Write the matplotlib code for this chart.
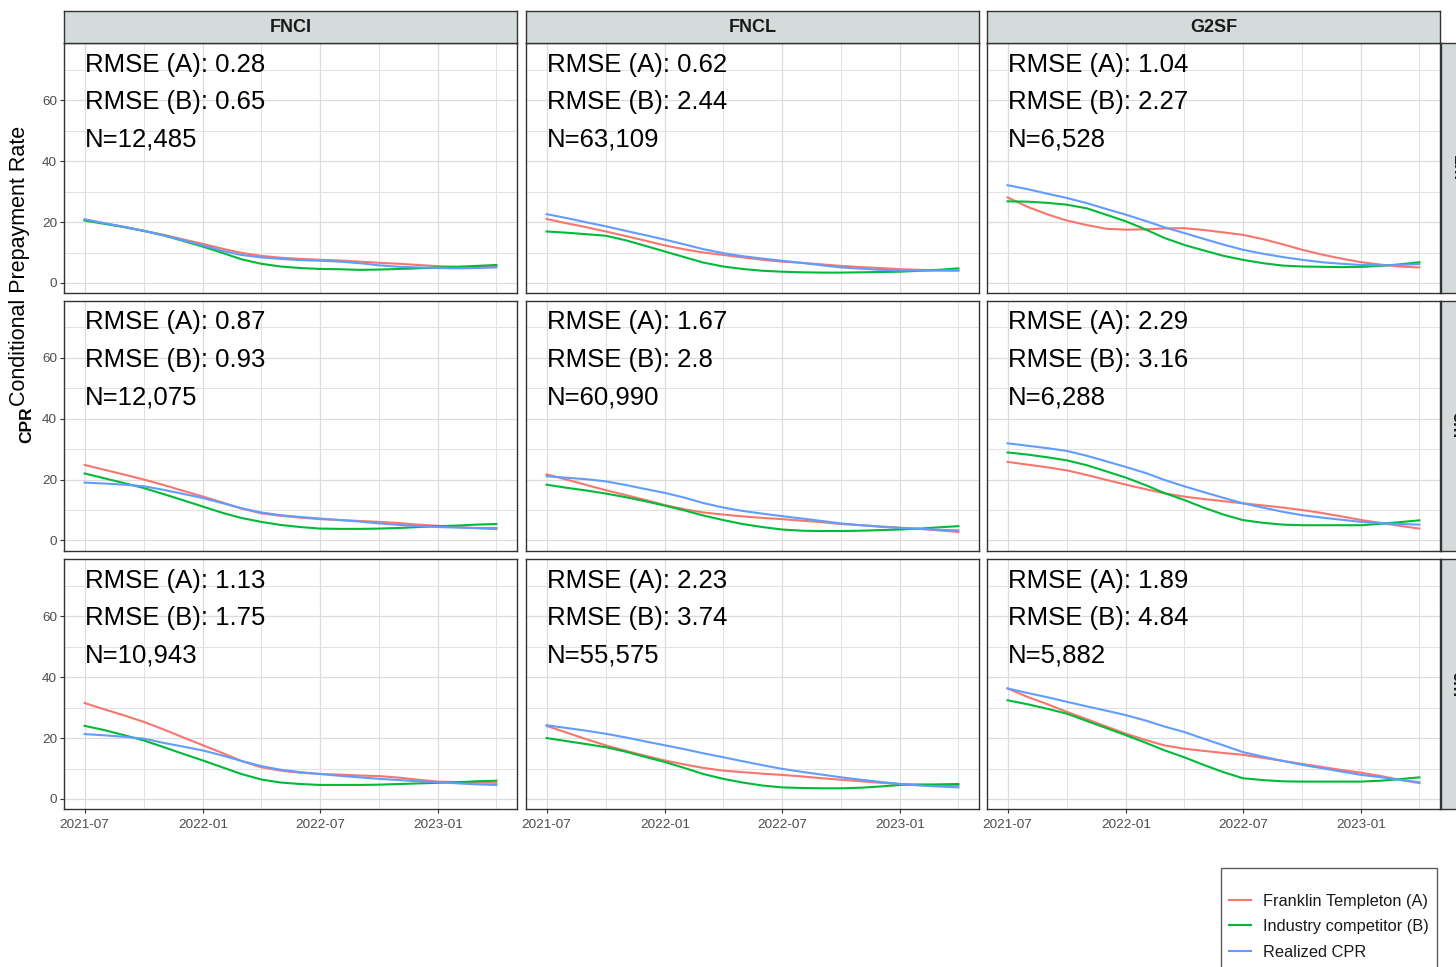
import numpy as np
import pandas as pd
import matplotlib
matplotlib.use('Agg')
import matplotlib.pyplot as plt
import matplotlib.dates as mdates

plt.rcParams['font.family'] = ['Liberation Sans', 'DejaVu Sans']

# facets and series
products = ['FNCI', 'FNCL', 'G2SF']
horizons = ['1m', '3m', '6m']
series_names = ['Franklin Templeton (A)', 'Industry competitor (B)', 'Realized CPR']
colors = ['#F8766D', '#00BA38', '#619CFF']

months = pd.date_range('2021-07-01', '2023-04-01', freq='MS')

# 1m horizon
fnci_1m_a = [20.8, 19.6, 18.4, 17.1, 15.8, 14.3, 12.8, 11.2, 9.9, 8.9, 8.3, 7.9, 7.6, 7.4, 7.0, 6.6, 6.3, 5.9, 5.5, 5.3, 5.3, 5.5]
fnci_1m_b = [20.5, 19.4, 18.3, 17.1, 15.6, 13.8, 11.9, 9.8, 7.8, 6.3, 5.4, 4.9, 4.6, 4.5, 4.3, 4.4, 4.6, 4.8, 5.1, 5.3, 5.6, 5.9]
fnci_1m_r = [20.9, 19.6, 18.4, 17.1, 15.6, 14.0, 12.3, 10.5, 9.2, 8.4, 7.9, 7.5, 7.3, 7.0, 6.5, 5.8, 5.3, 5.1, 4.9, 4.8, 4.9, 5.1]
fncl_1m_a = [21.0, 19.6, 18.3, 16.9, 15.4, 13.9, 12.3, 11.0, 10.0, 9.2, 8.4, 7.6, 7.0, 6.6, 6.1, 5.6, 5.2, 4.9, 4.5, 4.3, 4.1, 4.0]
fncl_1m_b = [16.9, 16.5, 16.0, 15.5, 14.0, 12.2, 10.3, 8.4, 6.7, 5.4, 4.6, 4.0, 3.7, 3.5, 3.4, 3.4, 3.5, 3.6, 3.7, 4.0, 4.3, 4.8]
fncl_1m_r = [22.6, 21.3, 19.9, 18.6, 17.1, 15.7, 14.2, 12.6, 11.1, 9.8, 8.8, 8.0, 7.3, 6.6, 5.8, 5.1, 4.7, 4.3, 4.1, 4.1, 4.1, 4.2]
g2sf_1m_a = [28.1, 25.0, 22.5, 20.5, 19.0, 17.8, 17.5, 17.6, 17.9, 18.0, 17.4, 16.6, 15.8, 14.4, 12.7, 10.9, 9.3, 8.0, 6.8, 6.0, 5.4, 5.1]
g2sf_1m_b = [26.8, 26.7, 26.3, 25.7, 24.5, 22.4, 20.2, 17.5, 14.8, 12.5, 10.7, 8.9, 7.6, 6.5, 5.7, 5.4, 5.3, 5.2, 5.3, 5.6, 6.1, 6.8]
g2sf_1m_r = [32.1, 30.8, 29.3, 27.9, 26.2, 24.3, 22.4, 20.3, 18.3, 16.4, 14.5, 12.6, 10.9, 9.6, 8.5, 7.6, 6.8, 6.3, 5.9, 5.8, 5.9, 6.2]

# 3m horizon
fnci_3m_a = [24.8, 23.2, 21.6, 20.0, 18.2, 16.3, 14.4, 12.4, 10.5, 8.9, 8.1, 7.5, 7.0, 6.7, 6.4, 6.1, 5.7, 5.2, 4.8, 4.4, 4.0, 3.7]
fnci_3m_b = [22.0, 20.4, 18.8, 17.2, 15.2, 13.2, 11.1, 9.0, 7.4, 6.1, 5.1, 4.4, 3.9, 3.8, 3.8, 3.9, 4.1, 4.4, 4.7, 4.9, 5.2, 5.4]
fnci_3m_r = [19.0, 18.7, 18.3, 17.8, 16.6, 15.3, 13.9, 12.2, 10.6, 9.2, 8.3, 7.7, 7.2, 6.7, 6.2, 5.6, 5.1, 4.7, 4.4, 4.2, 4.1, 4.1]
fncl_3m_a = [21.7, 20.0, 18.2, 16.5, 14.9, 13.3, 11.6, 10.2, 9.2, 8.5, 7.9, 7.4, 7.0, 6.5, 6.0, 5.4, 5.0, 4.6, 4.2, 3.8, 3.3, 2.8]
fncl_3m_b = [18.3, 17.3, 16.4, 15.4, 14.2, 12.9, 11.4, 9.8, 8.2, 6.7, 5.4, 4.4, 3.6, 3.2, 3.1, 3.1, 3.2, 3.4, 3.6, 3.9, 4.3, 4.7]
fncl_3m_r = [21.1, 20.6, 20.1, 19.4, 18.2, 16.9, 15.6, 14.0, 12.3, 10.8, 9.7, 8.8, 8.0, 7.2, 6.4, 5.6, 5.0, 4.5, 4.1, 3.8, 3.5, 3.3]
g2sf_3m_a = [25.8, 24.9, 24.0, 23.0, 21.5, 19.9, 18.3, 16.8, 15.5, 14.4, 13.6, 12.9, 12.2, 11.5, 10.8, 10.0, 9.0, 7.9, 6.7, 5.7, 4.8, 3.9]
g2sf_3m_b = [28.9, 28.2, 27.3, 26.3, 24.7, 22.7, 20.6, 18.1, 15.6, 13.3, 10.8, 8.5, 6.7, 5.8, 5.2, 5.0, 5.0, 5.0, 5.0, 5.5, 6.0, 6.6]
g2sf_3m_r = [31.9, 31.1, 30.3, 29.4, 27.8, 26.0, 24.1, 22.1, 19.9, 17.8, 15.9, 14.0, 12.2, 10.8, 9.4, 8.3, 7.5, 6.8, 6.1, 5.7, 5.4, 5.2]

# 6m horizon
fnci_6m_a = [31.5, 29.4, 27.4, 25.3, 22.8, 20.2, 17.6, 15.0, 12.5, 10.4, 9.3, 8.6, 8.2, 8.0, 7.7, 7.5, 7.0, 6.3, 5.7, 5.5, 5.4, 5.3]
fnci_6m_b = [24.0, 22.6, 20.9, 19.2, 17.0, 14.8, 12.6, 10.3, 8.2, 6.4, 5.4, 4.9, 4.6, 4.6, 4.6, 4.7, 4.9, 5.1, 5.3, 5.5, 5.8, 6.0]
fnci_6m_r = [21.3, 20.9, 20.4, 19.8, 18.4, 17.2, 15.9, 14.2, 12.5, 10.8, 9.6, 8.8, 8.2, 7.6, 7.1, 6.6, 6.2, 5.8, 5.5, 5.1, 4.8, 4.6]
fncl_6m_a = [24.0, 21.8, 19.6, 17.6, 15.8, 14.2, 12.6, 11.3, 10.2, 9.3, 8.8, 8.3, 7.9, 7.4, 6.8, 6.3, 5.8, 5.3, 4.9, 4.7, 4.5, 4.4]
fncl_6m_b = [20.0, 19.0, 18.0, 17.0, 15.5, 13.8, 12.1, 10.1, 8.2, 6.6, 5.4, 4.4, 3.8, 3.6, 3.5, 3.5, 3.7, 4.1, 4.6, 4.7, 4.8, 4.9]
fncl_6m_r = [24.2, 23.3, 22.4, 21.4, 20.2, 18.9, 17.6, 16.3, 15.0, 13.7, 12.4, 11.1, 9.9, 8.9, 8.0, 7.1, 6.3, 5.6, 4.9, 4.4, 4.1, 3.8]
g2sf_6m_a = [36.3, 33.5, 31.1, 28.6, 26.2, 23.8, 21.4, 19.3, 17.6, 16.5, 15.8, 15.1, 14.5, 13.5, 12.5, 11.5, 10.5, 9.5, 8.6, 7.5, 6.3, 5.2]
g2sf_6m_b = [32.4, 31.1, 29.6, 28.0, 25.6, 23.3, 20.9, 18.4, 16.0, 13.7, 11.2, 8.8, 6.8, 6.2, 5.8, 5.7, 5.7, 5.7, 5.7, 6.0, 6.5, 7.1]
g2sf_6m_r = [36.3, 34.8, 33.4, 31.9, 30.4, 29.0, 27.5, 25.7, 23.8, 22.0, 19.8, 17.6, 15.4, 13.9, 12.5, 11.2, 10.1, 9.0, 7.9, 7.1, 6.3, 5.5]

# panel annotations (rows = horizons, cols = products)
rmse_a = [[0.28, 0.62, 1.04], [0.87, 1.67, 2.29], [1.13, 2.23, 1.89]]
rmse_b = [[0.65, 2.44, 2.27], [0.93, 2.8, 3.16], [1.75, 3.74, 4.84]]
n_obs = [[12485, 63109, 6528], [12075, 60990, 6288], [10943, 55575, 5882]]

panels = [
    [(fnci_1m_a, fnci_1m_b, fnci_1m_r), (fncl_1m_a, fncl_1m_b, fncl_1m_r), (g2sf_1m_a, g2sf_1m_b, g2sf_1m_r)],
    [(fnci_3m_a, fnci_3m_b, fnci_3m_r), (fncl_3m_a, fncl_3m_b, fncl_3m_r), (g2sf_3m_a, g2sf_3m_b, g2sf_3m_r)],
    [(fnci_6m_a, fnci_6m_b, fnci_6m_r), (fncl_6m_a, fncl_6m_b, fncl_6m_r), (g2sf_6m_a, g2sf_6m_b, g2sf_6m_r)],
]

# layout in pixels
W, H = 1456, 967
col_x = [64, 526, 987]
row_y = [43, 300.5, 559]
panel_w, panel_h = 453, 250
strip_h = 32


def fig_rect(x, y, w, h):
    return [x / W, 1 - (y + h) / H, w / W, h / H]


fig = plt.figure(figsize=(W / 100, H / 100), dpi=100)

span = months[-1] - months[0]
xlim = (months[0] - span * 0.05, months[-1] + span * 0.05)
major_x = pd.to_datetime(['2021-07-01', '2022-01-01', '2022-07-01', '2023-01-01'])
minor_x = pd.to_datetime(['2021-10-01', '2022-04-01', '2022-10-01', '2023-04-01'])

border = '#333333'
handles = []
for r in range(3):
    for c in range(3):
        ax = fig.add_axes(fig_rect(col_x[c], row_y[r], panel_w, panel_h))
        for vals, col, name in zip(panels[r][c], colors, series_names):
            ln, = ax.plot(months, vals, color=col, lw=1.5, label=name)
            if r == 0 and c == 0:
                handles.append(ln)
        ax.set_xlim(xlim)
        ax.set_ylim(-3.3, 78.8)
        ax.set_yticks([0, 20, 40, 60])
        ax.set_yticks([10, 30, 50, 70], minor=True)
        ax.set_xticks(major_x)
        ax.set_xticks(minor_x, minor=True)
        ax.xaxis.set_major_formatter(mdates.DateFormatter('%Y-%m'))
        ax.grid(which='major', color='#DCDCDC', lw=0.9)
        ax.grid(which='minor', color='#E2E2E2', lw=0.7)
        ax.set_axisbelow(True)
        for sp in ax.spines.values():
            sp.set_color(border)
            sp.set_linewidth(1.0)
        ax.tick_params(which='major', length=3, width=0.8, color=border,
                       labelsize=9.7, labelcolor='#4D4D4D', pad=2)
        ax.tick_params(axis='x', which='major', pad=4.5)
        ax.tick_params(which='minor', length=0)
        if c != 0:
            ax.tick_params(axis='y', which='major', length=0, labelleft=False)
        if r != 2:
            ax.tick_params(axis='x', which='major', length=0, labelbottom=False)

        x0 = months[0]
        ax.text(x0, 71.6, f'RMSE (A): {rmse_a[r][c]}', fontsize=18.5, va='center', ha='left')
        ax.text(x0, 59.4, f'RMSE (B): {rmse_b[r][c]}', fontsize=18.5, va='center', ha='left')
        ax.text(x0, 47.1, f'N={n_obs[r][c]:,}', fontsize=18.5, va='center', ha='left')

# strips
strip_fill = '#D5DADA'
for c, name in enumerate(products):
    s = fig.add_axes(fig_rect(col_x[c], 11, panel_w, strip_h))
    s.set_facecolor(strip_fill)
    s.set_xticks([])
    s.set_yticks([])
    for sp in s.spines.values():
        sp.set_color(border)
        sp.set_linewidth(1.0)
    s.text(0.5, 0.5, name, transform=s.transAxes, ha='center', va='center',
           fontsize=13, fontweight='bold', color='#1A1A1A')

for r, name in enumerate(horizons):
    s = fig.add_axes(fig_rect(1441, row_y[r], 32, panel_h))
    s.set_facecolor(strip_fill)
    s.set_xticks([])
    s.set_yticks([])
    for sp in s.spines.values():
        sp.set_color(border)
        sp.set_linewidth(1.0)
    s.text(0.5, 0.5, name, transform=s.transAxes, ha='center', va='center',
           rotation=-90, fontsize=13, fontweight='bold', color='#1A1A1A')

# axis titles
fig.text(20 / W, 1 - 266 / H, 'Conditional Prepayment Rate', rotation=90,
         fontsize=15.5, ha='center', va='center', color='black')
fig.text(26.5 / W, 1 - 425 / H, 'CPR', rotation=90, fontsize=12.5,
         fontweight='bold', ha='center', va='center', color='black')

leg = fig.legend(handles=handles, labels=series_names, loc='upper left',
                 bbox_to_anchor=(1221 / W, 1 - 868 / H), title=' ',
                 title_fontsize=6, fontsize=11.8, frameon=True, fancybox=False,
                 edgecolor=border, handlelength=1.3, handletextpad=0.75,
                 labelspacing=0.64, borderpad=0.5, borderaxespad=0)
leg.get_frame().set_linewidth(1.0)
for t in leg.get_texts():
    t.set_color('#1A1A1A')

fig.savefig('out.png', dpi=100)
